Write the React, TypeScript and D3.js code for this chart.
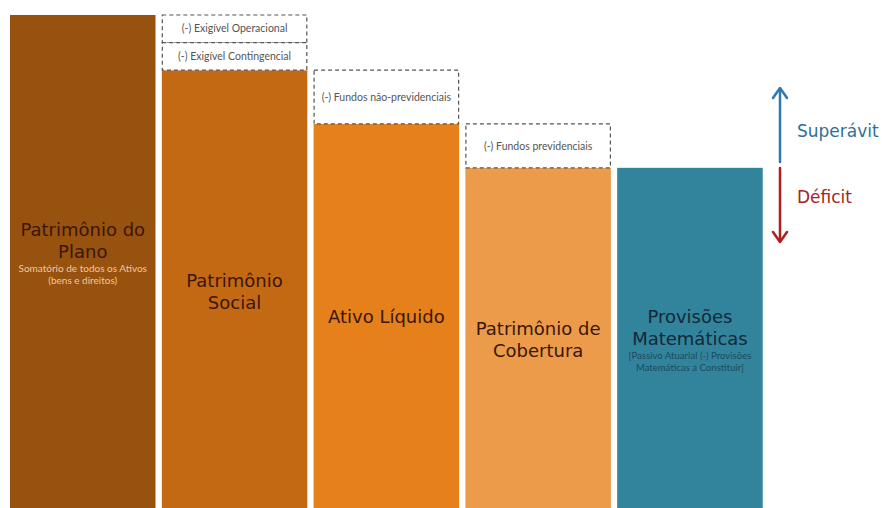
import React from 'react'
import * as d3 from 'd3'

// bar heights as share of total plan assets (100 = Patrimônio do Plano)
const categories = ['Patrimônio do Plano', 'Patrimônio Social', 'Ativo Líquido', 'Patrimônio de Cobertura', 'Provisões Matemáticas']
const values = [100, 88.8, 77.9, 69.0, 69.0]
const titleLines = [['Patrimônio do', 'Plano'], ['Patrimônio', 'Social'], ['Ativo Líquido'], ['Patrimônio de', 'Cobertura'], ['Provisões', 'Matemáticas']]
const subLines = [['Somatório de todos os Ativos', '(bens e direitos)'], [], [], [], ['[Passivo Atuarial (-) Provisões', 'Matemáticas a Constituir]']]

// deductions drawn as dashed boxes above each bar
const deductionLabels = ['(-) Exigível Operacional', '(-) Exigível Contingencial', '(-) Fundos não-previdenciais', '(-) Fundos previdenciais']
const deductionBars = [1, 1, 2, 3]
const deductionTop = [100, 94.4, 88.8, 77.9]
const deductionBottom = [94.4, 88.8, 77.9, 69.0]

const colors = ['#98520f', '#c46913', '#e6801b', '#ec9b4b', '#31849b']
const titleColors = ['#3a1606', '#3a1606', '#3a1606', '#3a1606', '#14283a']
const subColors = ['#f0c89a', '', '', '', '#1e4a5e']
const subSizes = [10, 0, 0, 0, 9.6]
const titleY = [236, 287, 323, 335, 323]

const W = 882
const H = 508
const hand = '"Comic Sans MS", "DejaVu Sans", sans-serif'
const small = 'Lato, "Liberation Sans", sans-serif'

export default function App() {
  const x = d3.scaleBand<string>().domain(categories).range([10, 762.7]).paddingInner(0.0415).paddingOuter(0)
  const y = d3.scaleLinear().domain([0, 100]).range([508, 15])
  const ax = 780
  const lh = 22

  return (
    <div style={{ position: 'fixed', left: 0, top: 0 }}>
      <svg width={W} height={H} style={{ display: 'block', background: '#fff' }}>
        {categories.map((c, i) => (
          <rect key={c} x={x(c)} y={y(values[i])} width={x.bandwidth()} height={y(0) - y(values[i])} fill={colors[i]} />
        ))}

        {deductionLabels.map((d, i) => {
          const c = categories[deductionBars[i]]
          const y0 = y(deductionTop[i])
          const y1 = y(deductionBottom[i])
          return (
            <g key={d}>
              <rect x={(x(c) as number) + 0.5} y={y0} width={x.bandwidth() - 1} height={y1 - y0}
                fill="#fff" stroke="#555" strokeWidth={1.2} strokeDasharray="4,3" />
              <text x={(x(c) as number) + x.bandwidth() / 2} y={(y0 + y1) / 2} dy="0.35em" textAnchor="middle"
                fontFamily={small} fontSize={10.5} fill="#555">{d}</text>
            </g>
          )
        })}

        {categories.map((c, i) => {
          const cx = (x(c) as number) + x.bandwidth() / 2
          const nT = titleLines[i].length
          return (
            <g key={'t' + c}>
              {titleLines[i].map((t, j) => (
                <text key={t} x={cx} y={titleY[i] + j * lh} textAnchor="middle" fontFamily={hand}
                  fontSize={18} fill={titleColors[i]}>{t}</text>
              ))}
              {subLines[i].map((t, j) => (
                <text key={t} x={cx} y={titleY[i] + (nT - 1) * lh + 14 + j * 12} textAnchor="middle" fontFamily={small}
                  fontSize={subSizes[i]} fill={subColors[i]}>{t}</text>
              ))}
            </g>
          )
        })}

        {/* superávit / déficit arrows */}
        <g fill="none" strokeWidth={2.5} strokeLinecap="round" strokeLinejoin="round">
          <path d={`M${ax},162 L${ax},89`} stroke="#2e78b4" />
          <path d={`M${ax - 7},98 L${ax},88 L${ax + 7},98`} stroke="#2e78b4" />
          <path d={`M${ax},168 L${ax},241`} stroke="#b01e1e" />
          <path d={`M${ax - 7},232 L${ax},242 L${ax + 7},232`} stroke="#b01e1e" />
        </g>
        <text x={797} y={137} fontFamily={hand} fontSize={17} fill="#2e6f99">Superávit</text>
        <text x={797} y={203} fontFamily={hand} fontSize={17} fill="#a52323">Déficit</text>
      </svg>
    </div>
  )
}
